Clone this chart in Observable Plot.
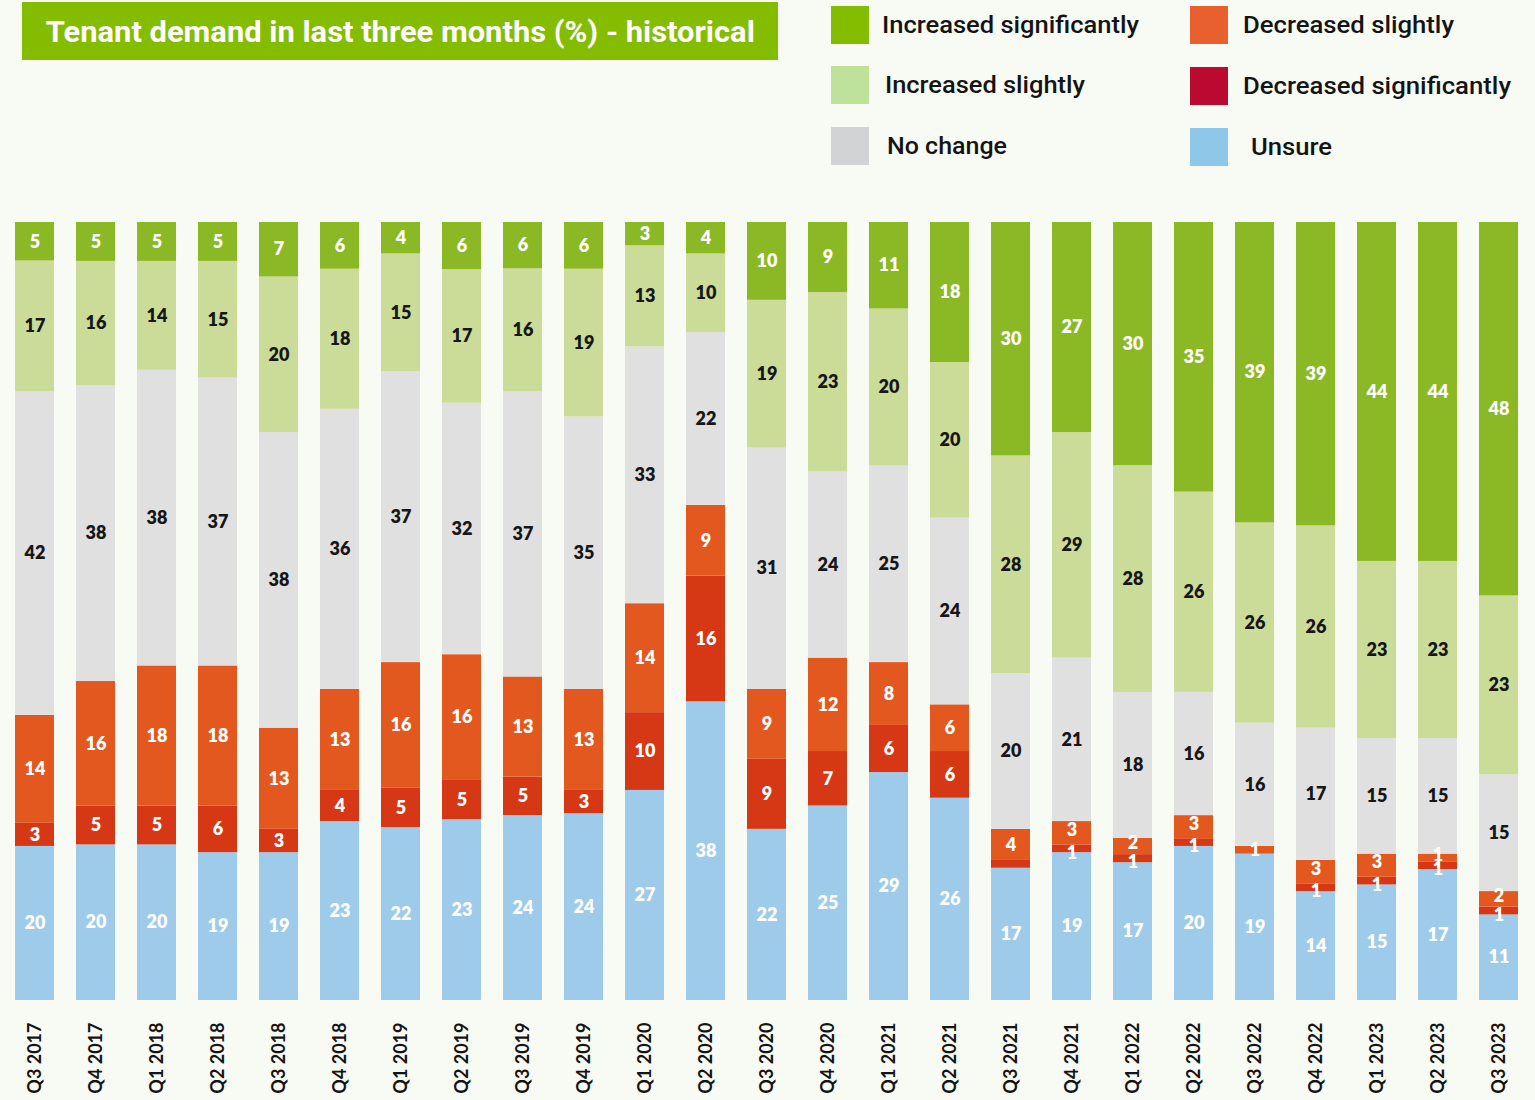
<!DOCTYPE html>
<html>
<head>
<meta charset="utf-8">
<script src="https://cdn.jsdelivr.net/npm/d3@7"></script>
<script src="https://cdn.jsdelivr.net/npm/@observablehq/plot@0.6"></script>
<style>
  html, body { margin: 0; padding: 0; background: #f8faf4; }
  body { width: 1535px; height: 1100px; position: relative; overflow: hidden; font-family: Roboto, "Noto Sans", sans-serif; }
  #header { position: relative; width: 1535px; height: 200px; }
  #title { position: absolute; left: 22px; top: 2px; width: 756px; height: 58px; background: #84bc00; display: flex; align-items: center; justify-content: center; }
  #title span { color: #fff; font-weight: 700; font-size: 30px; white-space: nowrap; display: inline-block; transform-origin: center center; }
  #chart { position: absolute; left: 0; top: 200px; }
</style>
</head>
<body>
<div id="header">
  <div id="title"><span id="titleText">Tenant demand in last three months (%) - historical</span></div>
</div>
<div id="chart"></div>
<script>
const quarters = ["Q3 2017","Q4 2017","Q1 2018","Q2 2018","Q3 2018","Q4 2018","Q1 2019","Q2 2019","Q3 2019","Q4 2019","Q1 2020","Q2 2020","Q3 2020","Q4 2020","Q1 2021","Q2 2021","Q3 2021","Q4 2021","Q1 2022","Q2 2022","Q3 2022","Q4 2022","Q1 2023","Q2 2023","Q3 2023"];

// stacking order: bottom to top
const seriesNames = ["Unsure","Decreased significantly","Decreased slightly","No change","Increased slightly","Increased significantly"];

const unsure        = [20,20,20,19,19,23,22,23,24,24,27,38,22,25,29,26,17,19,17,20,19,14,15,17,11];
const decreasedSig  = [3,5,5,6,3,4,5,5,5,3,10,16,9,7,6,6,1,1,1,1,0,1,1,1,1];
const decreasedSl   = [14,16,18,18,13,13,16,16,13,13,14,9,9,12,8,6,4,3,2,3,1,3,3,1,2];
const noChange      = [42,38,38,37,38,36,37,32,37,35,33,22,31,24,25,24,20,21,18,16,16,17,15,15,15];
const increasedSl   = [17,16,14,15,20,18,15,17,16,19,13,10,19,23,20,20,28,29,28,26,26,26,23,23,23];
const increasedSig  = [5,5,5,5,7,6,4,6,6,6,3,4,10,9,11,18,30,27,30,35,39,39,44,44,48];

// labels not printed in the original
const hiddenLabels = [["Q3 2021","Decreased significantly"]];

const barColors = {
  "Unsure": "#9ecbe9",
  "Decreased significantly": "#d63815",
  "Decreased slightly": "#e3581e",
  "No change": "#e0e0e0",
  "Increased slightly": "#cbdb98",
  "Increased significantly": "#8bb825"
};
const labelColors = {
  "Unsure": "#ffffff",
  "Decreased significantly": "#ffffff",
  "Decreased slightly": "#ffffff",
  "No change": "#161616",
  "Increased slightly": "#161616",
  "Increased significantly": "#ffffff"
};
const legendColors = {
  "Increased significantly": "#84bd00",
  "Increased slightly": "#bfe29b",
  "No change": "#d1d3d4",
  "Decreased slightly": "#e8602e",
  "Decreased significantly": "#bb0a30",
  "Unsure": "#8ec8e8"
};

const seriesValues = [unsure, decreasedSig, decreasedSl, noChange, increasedSl, increasedSig];
const data = [];
quarters.forEach((q, i) => {
  seriesNames.forEach((s, j) => {
    data.push({quarter: q, series: s, value: seriesValues[j][i]});
  });
});
const isHidden = d => hiddenLabels.some(([q, s]) => q === d.quarter && s === d.series);
const shown = d => d.value > 0 && !isHidden(d);
const smallSig = d => d.series === "Decreased significantly" && d.value <= 1;
const smallSl = d => d.series === "Decreased slightly" && d.value <= 3 && d.quarter !== "Q3 2022";

const stackOpts = {x: "quarter", y: "value", z: "series", order: seriesNames, offset: "normalize"};
const labelStyle = {fontSize: 18, fontWeight: 800, fontFamily: "Lato, sans-serif", fill: d => labelColors[d.series]};

const plot = Plot.plot({
  width: 1535,
  height: 900,
  marginTop: 22,
  marginBottom: 100,
  marginLeft: 4,
  marginRight: 6,
  style: {background: "transparent", fontFamily: "Lato, sans-serif"},
  x: {domain: quarters, paddingInner: 0.36, paddingOuter: 0.18, label: null},
  y: {axis: null},
  color: {type: "identity"},
  marks: [
    Plot.barY(data, Plot.stackY({...stackOpts, fill: d => barColors[d.series]})),
    Plot.text(data, Plot.stackY({...stackOpts, ...labelStyle,
      text: d => (shown(d) && !smallSig(d) && !smallSl(d)) ? String(d.value) : ""})),
    Plot.text(data, Plot.stackY({...stackOpts, ...labelStyle, dy: 4,
      text: d => (shown(d) && smallSig(d)) ? String(d.value) : ""})),
    Plot.text(data, Plot.stackY({...stackOpts, ...labelStyle, dy: -3,
      text: d => (shown(d) && smallSl(d)) ? String(d.value) : ""})),
    Plot.axisX({
      tickRotate: -90, tickSize: 0, tickPadding: 22, fontSize: 18, fontWeight: 700,
      fontFamily: "Lato, sans-serif", fill: "#141414", label: null
    })
  ]
});
document.getElementById("chart").appendChild(plot);

// legend
const legendItems = [
  {name: "Increased significantly", x: 831, y: 6,   tx: 882,  w: 257},
  {name: "Increased slightly",      x: 831, y: 66,  tx: 885,  w: 200},
  {name: "No change",               x: 831, y: 127, tx: 887,  w: 120},
  {name: "Decreased slightly",      x: 1190, y: 6,  tx: 1243, w: 211},
  {name: "Decreased significantly", x: 1190, y: 67, tx: 1243, w: 268},
  {name: "Unsure",                  x: 1190, y: 128, tx: 1251, w: 81}
];
const header = document.getElementById("header");
legendItems.forEach(it => {
  const sw = document.createElement("div");
  sw.style.cssText = `position:absolute;left:${it.x}px;top:${it.y}px;width:38px;height:38px;background:${legendColors[it.name]}`;
  header.appendChild(sw);
  const lb = document.createElement("span");
  lb.textContent = it.name;
  lb.style.cssText = `position:absolute;left:${it.tx}px;top:${it.y + 19}px;font-size:24px;font-weight:500;color:#141414;white-space:nowrap;transform-origin:left center;line-height:1;`;
  header.appendChild(lb);
  const r = lb.getBoundingClientRect();
  lb.style.top = (it.y + 19 - r.height / 2) + "px";
  lb.style.transform = `scaleX(${it.w / r.width})`;
});
const tt = document.getElementById("titleText");
const tw = tt.getBoundingClientRect().width;
tt.style.transform = `scaleX(${709 / tw})`;
</script>
</body>
</html>
